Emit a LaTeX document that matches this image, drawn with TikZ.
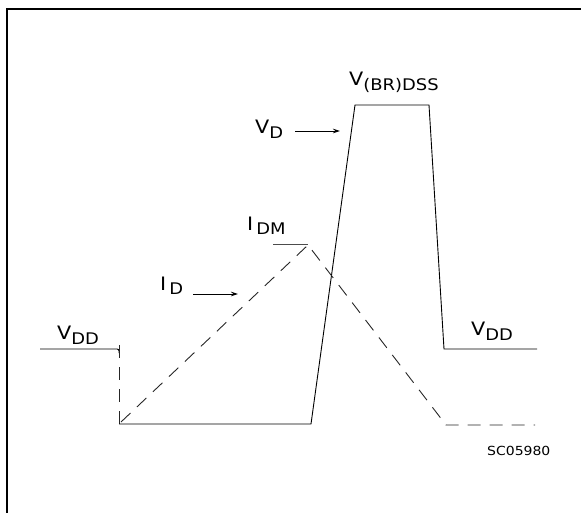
\documentclass[tikz,border=0pt]{standalone}
\usepackage{fontspec}
\setmainfont{DejaVu Sans}
\newfontfamily\labfont[FakeStretch=1.12]{DejaVu Sans}
\usetikzlibrary{arrows.meta}
\newcommand{\sig}[2]{{\fontsize{18.5}{18.5}\labfont #1}\raisebox{-5pt}{\fontsize{16}{16}\labfont #2}}

\begin{document}
\begin{tikzpicture}[
    x=1pt, y=-1pt,
    frame/.style={black, line width=2.2pt},
    wave/.style={black, line width=0.9pt},
    iwave/.style={black!85, line width=0.9pt, dash pattern=on 13pt off 9pt},
    lab/.style={inner sep=0pt, anchor=base west},
    pointer/.style={black, line width=0.8pt, -{Stealth[length=7pt, width=4.5pt]}},
]
\useasboundingbox (0,0) rectangle (581,513);

% ---- frame, cut by the page edge ----
\draw[frame] (7,520) -- (7,9) -- (590,9);

% ---- drain voltage (solid) ----
\coordinate (vstart) at (40,349);
\coordinate (voff)   at (119,349);
\coordinate (von)    at (119,424);
\coordinate (vrise)  at (311,424);
\coordinate (vtopl)  at (355,105);
\coordinate (vtopr)  at (429,105);
\coordinate (vfall)  at (444,349);
\coordinate (vend)   at (537,349);
\draw[wave, rounded corners=2pt] (vstart) -- (voff) -- ++(0,4);
\draw[iwave] ([yshift=4pt]voff) -- (von);
\draw[wave] (von) -- (vrise) -- (vtopl) -- (vtopr) -- (vfall) -- (vend);

% ---- drain current (dashed) ----
\coordinate (istart) at (121,422);
\coordinate (ipeak)  at (308,245);
\coordinate (iknee)  at (446,425);
\coordinate (iend)   at (535,425);
\draw[iwave] (istart) -- (ipeak) -- (iknee) -- (iend);
\coordinate (idm) at (273,244);
\draw[wave, black!70] (idm) -- (idm -| ipeak);

% ---- labels ----
\node[lab] (vddl)   at (57,339)  {\sig{V}{DD}};
\node[lab] (idlab)  at (160,290) {\sig{I\,}{D}};
\node[lab] (idmlab) at (247,230) {\sig{I\,}{DM}};
\node[lab] (vdlab)  at (255,134) {\sig{V}{D}};
\node[lab] (vbr)    at (349,86)  {\sig{V}{(BR)DSS}};
\node[lab] (vddr)   at (471,335) {\sig{V}{DD}};
\node[lab, font=\fontsize{12.5}{12.5}\selectfont\labfont] (code) at (487,455) {SC05980};

% ---- pointers ----
\coordinate (idtail) at (193,294);
\coordinate (idhead) at (238,294);
\coordinate (vdtail) at (295,131);
\coordinate (vdhead) at (340,131);
\draw[pointer] (idtail) -- (idhead);
\draw[pointer] (vdtail) -- (vdhead);
\end{tikzpicture}
\end{document}
